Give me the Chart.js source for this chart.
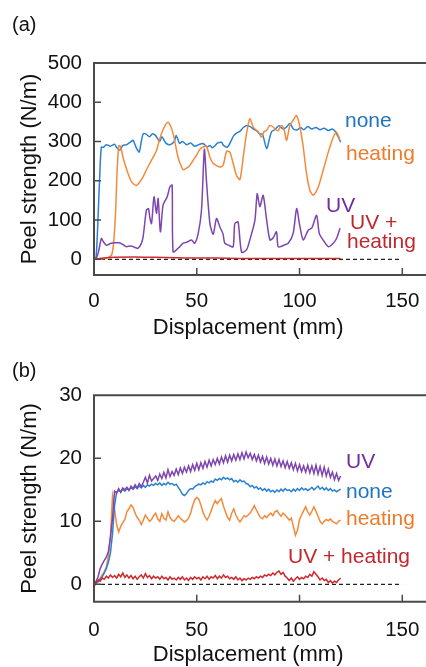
<!DOCTYPE html>
<html><head><meta charset="utf-8">
<script src="https://cdn.jsdelivr.net/npm/chart.js@4.4.0/dist/chart.umd.min.js"></script>
<style>
html,body{margin:0;padding:0;background:#fff;}
body{width:426px;height:667px;position:relative;overflow:hidden;font-family:"Liberation Sans",Arial,sans-serif;}
.wrap{position:absolute;left:0;}
.lbl{position:absolute;font-size:21px;line-height:21px;white-space:nowrap;}
.pan{position:absolute;font-size:20px;line-height:20px;color:#111;}
</style></head><body>
<div class="wrap" style="top:0;width:426px;height:345px"><canvas id="ca" width="426" height="345"></canvas></div>
<div class="wrap" style="top:345px;width:426px;height:322px"><canvas id="cb" width="426" height="322"></canvas></div>
<div class="pan" style="left:12px;top:14px">(a)</div>
<div class="pan" style="left:12px;top:360px">(b)</div>
<div class="lbl" style="left:345px;top:109px;color:#1f74c2">none</div>
<div class="lbl" style="left:346px;top:142px;color:#ee7b2c">heating</div>
<div class="lbl" style="left:326px;top:194px;color:#6f2da0">UV</div>
<div class="lbl" style="left:350px;top:211px;color:#c0282e">UV +</div>
<div class="lbl" style="left:347px;top:230px;color:#c0282e">heating</div>
<div class="lbl" style="left:346px;top:450px;color:#6f2da0">UV</div>
<div class="lbl" style="left:346px;top:480px;color:#1f74c2">none</div>
<div class="lbl" style="left:346px;top:507px;color:#ee7b2c">heating</div>
<div class="lbl" style="left:288px;top:545px;color:#c0282e">UV + heating</div>
<script>
// ---------- data: panel (a) ----------
const xTicks = [0, 50, 100, 150];
const yTicksA = [0, 100, 200, 300, 400, 500];
const yTicksB = [0, 10, 20, 30];
const zeroLineX = [0, 150];
const zeroLineY = [0, 0];

const noneAX = [0,1,2,3,3.6,4.5,6,8,10,11,12.5,14,16,18,19,20.5,22,23,24,25.5,27,28.5,30,32,33,35,37,39,40,41.7,43,45,47,49,51,53,55,56.5,57.5,59,60,62,63,65,66.5,68,69.5,71,72.5,74,76,78,79,80.5,82,84,85.5,86.5,88,90,92,93.5,95.3,97,99,100.5,102,104,106,108,110,112,114,116,117.5,119,120];
const noneAY = [0,5,110,240,286,285,292,288,293,285,278,290,292,300,303,285,273,300,320,318,312,320,315,300,312,296,292,300,315,295,300,292,296,288,292,295,286,290,284,290,296,298,290,286,300,315,322,326,335,340,338,330,328,320,318,282,310,326,330,340,332,336,346,332,330,336,330,338,332,336,330,334,328,332,325,310,298];

const heatAX = [0,3,5,7,8.5,9.5,10.5,11.2,12,12.5,13.3,14.1,15.5,16.6,18,19,20.6,22,23.9,25.5,27.1,28.8,30.4,31.5,32.8,34.5,36,37.2,38.5,39.7,40.9,42.2,43.4,45,46.6,48.2,49.9,51.5,53.1,54.7,56.4,58,59.6,61.2,62.8,64.5,66.1,67.7,69.3,71,72.6,74.2,75.8,77.4,78.7,79.9,81.5,82.7,83.9,85.6,87.2,88.4,89.6,91.2,92.5,93.7,95.3,97,98.5,100.2,101.8,103.4,105,106.7,109.1,111.5,114,116.4,118,119.7];
const heatAY = [0,0,2,5,10,40,120,220,288,290,280,260,235,218,200,193,188,195,210,228,244,260,277,298,320,340,349,340,320,290,260,240,228,232,239,252,265,280,286,288,260,244,239,235,239,275,273,244,214,203,260,320,358,337,330,325,311,325,328,341,337,330,328,341,330,303,341,355,366,337,286,218,176,163,184,227,273,311,324,303];

const uvAX = [0,1,2,3,3.6,4.5,6,8,10,12,13.3,15,15.8,18,20,21.4,23,23.9,25.5,26.5,27.2,28,29.2,30.4,31.2,32.3,33.6,35.6,36.9,38,38.5,40.9,43.4,45.4,47.4,49,50.7,52.3,53.7,54.7,56.4,58,59.6,61.2,62.8,63.6,65.5,67.7,68.5,70.1,71.8,74.2,75.8,78.3,79.4,80.7,82.3,84,85.6,87.2,88.8,89.6,92,94.5,96.9,98.6,100.2,101.8,104.2,106,108.3,109.6,111.5,114,116.4,118,119.7];
const uvAY = [0,2,15,40,53,45,36,40,42,42,40,34,32,34,30,28,40,57,125,129,105,91,159,117,155,70,138,159,184,189,19,28,41,44,49,41,66,125,280,201,91,64,104,83,64,41,36,32,91,95,18,24,49,100,167,134,163,100,49,55,70,32,35,41,66,129,83,49,74,80,112,66,49,32,41,53,79];

const uvhAX = [0,5,10,20,30,40,50,60,70,80,90,100,110,120];
const uvhAY = [0,3,5,6,5,4,3,3,2,2,2,2,2,2];

// ---------- data: panel (b) ----------
const dispB = [0,1,2,3,4,5,6,7,8,9,10,11,12,13,14,15,16,17,18,19,20,21,22,23,24,25,26,27,28,29,30,31,32,33,34,35,36,37,38,39,40,41,42,43,44,45,46,47,48,49,50,51,52,53,54,55,56,57,58,59,60,61,62,63,64,65,66,67,68,69,70,71,72,73,74,75,76,77,78,79,80,81,82,83,84,85,86,87,88,89,90,91,92,93,94,95,96,97,98,99,100,101,102,103,104,105,106,107,108,109,110,111,112,113,114,115,116,117,118,119,120];

const uvB = [0.2,0.5,1.2,2.5,3.2,3.8,4.3,5.2,7.5,10.5,
14.8,14.5,15.2,14.6,15.3,15.0,15.4,14.9,15.6,15.2,
15.8,15.3,16.0,15.5,16.2,17.0,16.1,17.3,16.4,16.8,
17.2,16.5,17.5,16.8,17.8,16.9,18.2,17.1,17.9,17.3,
18.3,17.4,18.5,17.6,18.6,17.8,18.8,17.9,19.0,18.1,
19.2,18.2,19.3,18.4,19.5,18.6,19.7,18.8,19.8,19.0,
20.0,19.1,20.2,19.3,20.4,19.4,20.5,19.6,20.6,19.7,
20.7,19.8,20.9,19.9,21.0,20.1,20.8,19.8,20.6,19.6,
20.5,19.4,20.3,19.2,20.2,19.1,20.0,18.9,19.9,18.8,
19.8,18.7,19.6,18.5,19.5,18.4,19.3,18.2,19.2,18.0,
19.0,17.9,18.8,17.8,18.9,17.7,18.8,17.6,18.9,17.5,
18.7,17.3,18.6,17.2,18.3,17.0,17.8,16.6,17.6,16.5,17.2];

const noneB = [0.1,0.2,0.4,0.8,1.2,1.8,2.5,3.5,5.0,8.0,
12.5,14.6,14.9,14.7,15.1,14.8,15.2,15.0,15.3,15.1,
15.5,15.2,15.6,15.3,15.7,15.4,15.8,15.6,15.9,15.7,
16.0,15.8,16.1,15.7,16.0,15.8,16.2,15.9,16.0,15.7,
15.9,15.4,14.9,14.3,14.1,14.4,14.9,15.2,15.1,15.5,
15.7,15.9,15.8,16.1,15.9,16.3,16.1,16.4,16.2,16.7,
16.5,16.8,16.6,17.0,16.7,16.9,16.6,16.8,16.3,16.5,
16.2,16.6,16.3,16.4,16.0,15.9,15.5,15.7,15.3,15.5,
15.1,15.3,14.9,15.2,14.8,15.1,14.7,14.9,14.6,15.0,
14.7,15.1,14.8,15.2,14.9,15.0,14.7,15.1,14.8,15.2,
14.9,15.3,15.0,15.2,14.9,15.1,15.4,15.0,15.3,15.6,
15.1,15.4,15.0,15.3,14.9,15.2,14.8,15.0,14.7,14.9,15.1];

const heatB = [0.0,0.3,0.6,1.0,1.5,2.0,2.8,4.5,7.5,14.0,
12.0,9.5,8.3,9.2,9.8,10.3,11.5,12.0,12.6,12.2,
11.3,10.6,10.2,9.5,10.2,11.0,10.5,10.0,10.3,10.9,
11.3,10.4,10.0,11.2,10.5,10.2,11.5,10.6,10.2,10.0,
10.4,10.9,10.5,10.2,9.9,10.1,10.5,11.3,12.5,13.4,
13.8,13.5,12.6,11.5,10.7,10.2,10.8,11.7,12.6,13.3,
12.8,13.3,13.6,12.4,11.5,10.6,10.2,11.3,12.0,11.0,
10.4,9.9,10.4,10.9,10.7,11.0,11.3,11.9,12.5,11.8,
11.2,10.6,10.4,10.9,10.6,11.0,11.3,10.9,11.5,11.7,
11.2,10.8,11.3,11.0,10.6,10.2,10.5,9.2,7.8,8.6,
10.3,11.0,11.7,12.3,11.5,11.0,11.6,12.3,11.6,10.8,
10.0,9.6,10.0,10.3,10.1,10.4,10.0,9.8,9.6,10.0,10.2];

const uvhB = [-0.4,0.3,0.7,0.5,1.0,0.8,1.3,1.0,1.5,1.1,
1.4,1.0,1.6,1.2,1.8,1.1,1.5,1.0,1.4,0.9,
1.3,0.8,1.2,1.5,1.0,1.7,1.1,1.4,0.9,1.3,
1.0,1.2,0.8,1.3,0.9,1.1,0.7,1.2,0.8,1.0,
0.7,1.1,0.8,1.2,0.7,1.0,0.6,1.1,0.8,1.2,
0.9,1.1,0.7,1.2,0.9,1.3,0.8,1.2,1.0,1.4,
0.9,1.3,1.0,1.5,1.1,1.3,0.9,1.1,0.8,1.2,
0.7,1.0,0.6,0.9,0.7,1.0,0.8,1.1,0.9,1.2,
1.0,1.3,1.1,1.5,1.3,1.6,1.4,1.8,1.5,1.9,
2.1,1.6,1.9,1.3,1.0,0.6,1.0,0.5,0.9,1.2,
0.8,1.1,0.9,1.3,1.1,1.6,1.3,2.0,1.6,1.2,
0.7,1.0,0.6,0.8,0.3,0.6,0.2,0.5,0.3,0.7,1.0];

// ---------- styles ----------
const C_NONE = '#2a80d2', C_HEAT = '#f38a3a', C_UV = '#7d45b0', C_UVH = '#d0282c';
Chart.defaults.font.family = '"Liberation Sans", Arial, sans-serif';

function xy(xs, ys) { return xs.map((x, i) => ({ x: x, y: ys[i] })); }

const framePlugin = {
  id: 'frame',
  afterDraw(chart) {
    const { ctx, chartArea: a, scales: { x, y } } = chart;
    const W = chart.width;
    ctx.save();
    ctx.strokeStyle = '#4a4a4a';
    ctx.lineWidth = 2;
    ctx.beginPath();
    ctx.moveTo(W, a.top); ctx.lineTo(a.left, a.top);
    ctx.lineTo(a.left, a.bottom); ctx.lineTo(W, a.bottom);
    ctx.stroke();
    ctx.lineWidth = 1.5;
    ctx.beginPath();
    y.ticks.forEach(t => {
      if (t.value >= y.max) return;
      const py = y.getPixelForValue(t.value);
      ctx.moveTo(a.left, py); ctx.lineTo(a.left + 7, py);
    });
    x.ticks.forEach(t => {
      if (t.value <= x.min) return;
      const px = x.getPixelForValue(t.value);
      ctx.moveTo(px, a.bottom); ctx.lineTo(px, a.bottom - 7);
    });
    ctx.stroke();
    ctx.restore();
  }
};

function opts(c) {
  return {
    responsive: false, animation: false, events: [],
    layout: { padding: { left: 0, top: c.padTop, right: 23.7, bottom: 0 } },
    plugins: { legend: { display: false }, tooltip: { enabled: false } },
    elements: { point: { radius: 0 }, line: { borderWidth: 1.5, tension: c.tension } },
    scales: {
      x: {
        type: 'linear', position: 'bottom', min: 0, max: 150,
        afterBuildTicks: s => { s.ticks = xTicks.map(v => ({ value: v })); },
        afterFit: s => { s.height = c.xH; s.paddingLeft = 0; s.paddingRight = 0; },
        grid: { display: false, drawTicks: false }, border: { display: false },
        ticks: { padding: c.xPad, color: '#111', font: { size: 20.5 }, maxRotation: 0, autoSkip: false },
        title: { display: true, text: 'Displacement (mm)', color: '#111', font: { size: 22, lineHeight: 1 }, padding: { top: 0, bottom: c.xtPad } }
      },
      y: {
        type: 'linear', position: 'left', min: c.yMin, max: c.yMax,
        afterBuildTicks: s => { s.ticks = c.yTicks.map(v => ({ value: v })); },
        afterFit: s => { s.width = 94; s.paddingTop = 0; s.paddingBottom = 0; },
        grid: { display: false, drawTicks: false }, border: { display: false },
        ticks: { padding: 12, color: '#111', font: { size: 20.5 }, autoSkip: false },
        title: { display: true, text: 'Peel strength (N/m)', color: '#111', font: { size: 22, lineHeight: 1 }, padding: { top: 19, bottom: 0 } }
      }
    }
  };
}

function ds(data, color, w) {
  return { data: data, borderColor: color, backgroundColor: color, borderWidth: w || 1.5, fill: false, pointRadius: 0 };
}
function zeroDs() {
  return { data: xy(zeroLineX, zeroLineY), borderColor: '#222', borderWidth: 1.2, borderDash: [4, 3], pointRadius: 0, fill: false, tension: 0 };
}

new Chart(document.getElementById('ca'), {
  type: 'line',
  data: { datasets: [
    ds(xy(uvhAX, uvhAY), C_UVH),
    ds(xy(uvAX, uvAY), C_UV),
    ds(xy(heatAX, heatAY), C_HEAT),
    ds(xy(noneAX, noneAY), C_NONE),
    zeroDs()
  ] },
  options: opts({ padTop: 63, xH: 70, xPad: 14, xtPad: 6, yMin: -40, yMax: 500, yTicks: yTicksA, tension: 0.25 }),
  plugins: [framePlugin]
});

new Chart(document.getElementById('cb'), {
  type: 'line',
  data: { datasets: [
    ds(xy(dispB, uvhB), C_UVH),
    ds(xy(dispB, uvB), C_UV),
    ds(xy(dispB, noneB), C_NONE),
    ds(xy(dispB, heatB), C_HEAT),
    zeroDs()
  ] },
  options: opts({ padTop: 50.3, xH: 65.3, xPad: 16.3, xtPad: 1, yMin: -2.75, yMax: 30, yTicks: yTicksB, tension: 0 }),
  plugins: [framePlugin]
});
</script>
</body></html>
